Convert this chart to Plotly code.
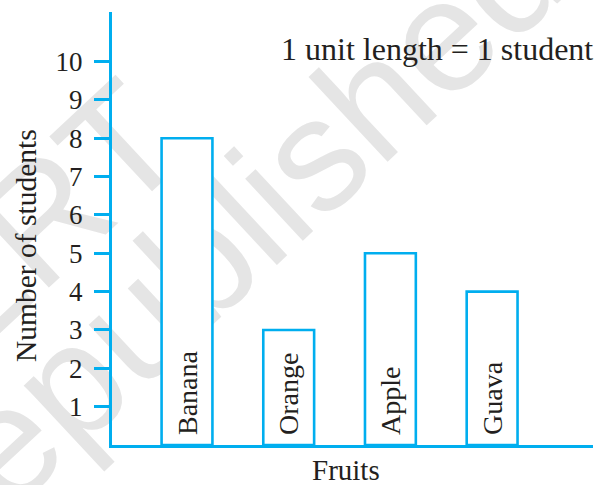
import math
import plotly.graph_objects as go

# ---- data -------------------------------------------------------------
fruits = ["Banana", "Orange", "Apple", "Guava"]
students = [8, 3, 5, 4]
y_ticks = list(range(1, 11))
scale_note = "1 unit length = 1 student"
x_title = "Fruits"
y_title = "Number of students"
watermark_lines = ["© NCERT", "not to be republished"]

# ---- styling ----------------------------------------------------------
CYAN = "#00aeef"
INK = "#231f20"
SERIF = "Liberation Serif, Times New Roman, serif"
SANS = "Liberation Sans, Arial, sans-serif"
MARK_GREY = "#e5e5e5"

W, H = 606, 485
ML, MR, MT, MB = 112, 13, 12, 40
PW, PH = W - ML - MR, H - MT - MB


def paper(px, py):
    """Convert page pixel coordinates to paper coordinates."""
    return (px - ML) / PW, (H - MB - py) / PH


fig = go.Figure()

# a non-breaking space lifts each name a little off the foot of its bar
fig.add_trace(
    go.Bar(
        x=fruits,
        y=students,
        width=0.5,
        marker=dict(color="white", line=dict(color=CYAN, width=2.6)),
        text=["\u00a0" + f for f in fruits],
        textposition="inside",
        insidetextanchor="start",
        textangle=-90,
        constraintext="none",
        insidetextfont=dict(family=SERIF, size=28, color=INK),
        cliponaxis=False,
        hoverinfo="skip",
    )
)

# Faint diagonal watermark, kept beneath the bars.
ANGLE = 43
ux, uy = math.cos(math.radians(ANGLE)), -math.sin(math.radians(ANGLE))
centres = [(-114.7, 343.7), (-19.9, 445.3)]
shapes = []
for txt, (cx, cy) in zip(watermark_lines, centres):
    x0, y0 = paper(cx - 60 * ux, cy - 60 * uy)
    x1, y1 = paper(cx + 60 * ux, cy + 60 * uy)
    shapes.append(
        dict(
            type="line", xref="paper", yref="paper",
            x0=x0, y0=y0, x1=x1, y1=y1,
            layer="below",
            line=dict(color="rgba(0,0,0,0)", width=0),
            label=dict(
                text=txt, textposition="middle", textangle=-ANGLE,
                xanchor="center", yanchor="middle", padding=0,
                font=dict(family=SANS, size=160, color=MARK_GREY),
            ),
        )
    )

annotations = []
nx, ny = paper(595, 49)
annotations.append(dict(text=scale_note, x=nx, y=ny, xref="paper", yref="paper",
                        xanchor="right", yanchor="middle", showarrow=False,
                        font=dict(family=SERIF, size=32, color=INK)))
fx, fy = paper(346, 470)
annotations.append(dict(text=x_title, x=fx, y=fy, xref="paper", yref="paper",
                        xanchor="center", yanchor="middle", showarrow=False,
                        font=dict(family=SERIF, size=29, color=INK)))
tx, ty = paper(26, 246)
annotations.append(dict(text=y_title, x=tx, y=ty, xref="paper", yref="paper",
                        xanchor="center", yanchor="middle", textangle=-90,
                        showarrow=False,
                        font=dict(family=SERIF, size=29.5, color=INK)))

fig.update_layout(
    width=W, height=H,
    margin=dict(l=ML, r=MR, t=MT, b=MB),
    paper_bgcolor="white",
    plot_bgcolor="rgba(0,0,0,0)",
    showlegend=False,
    barmode="overlay",
    shapes=shapes,
    annotations=annotations,
    xaxis=dict(
        type="category",
        range=[-0.7375, 3.992],
        showgrid=False, zeroline=False,
        showline=True, linecolor=CYAN, linewidth=3,
        ticks="", showticklabels=False,
    ),
    yaxis=dict(
        range=[0, 11.29],
        tickvals=y_ticks,
        showgrid=False, zeroline=False,
        showline=True, linecolor=CYAN, linewidth=3,
        ticks="outside", ticklen=15, tickwidth=3, tickcolor=CYAN,
        ticklabelstandoff=6,
        tickfont=dict(family=SERIF, size=27, color=INK),
    ),
)

fig.write_html("out.html")
